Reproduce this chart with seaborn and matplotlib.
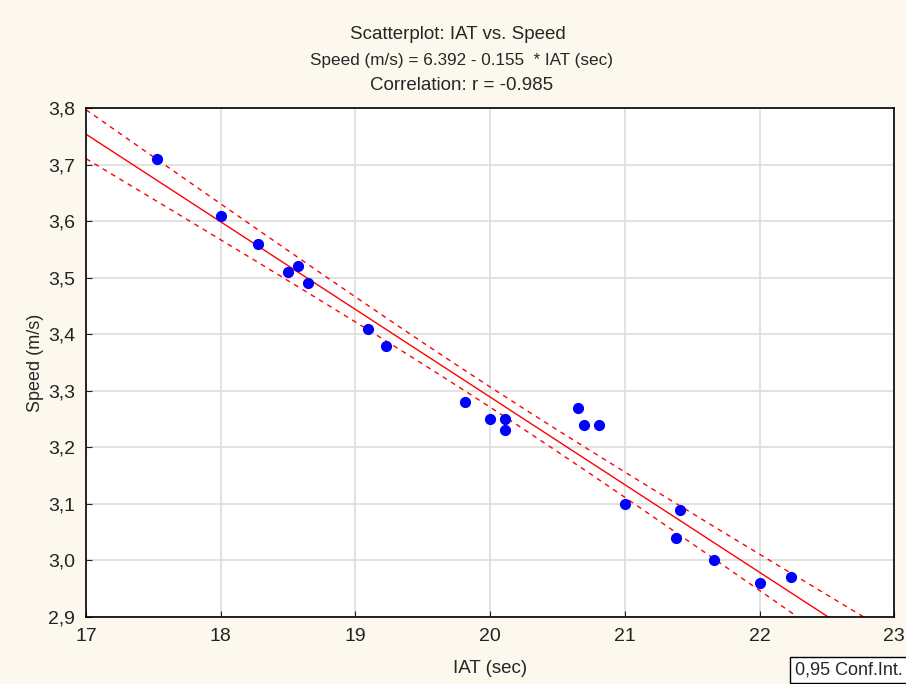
import numpy as np
import pandas as pd
import matplotlib
matplotlib.use("Agg")
import matplotlib.pyplot as plt
import seaborn as sns
from matplotlib.ticker import FuncFormatter

# data
iat = [17.53, 18.00, 18.28, 18.50, 18.57, 18.65, 19.09, 19.23, 19.81, 20.00, 20.11,
       20.11, 20.65, 20.70, 20.81, 21.00, 21.41, 21.38, 21.66, 22.00, 22.23]
speed = [3.71, 3.61, 3.56, 3.51, 3.52, 3.49, 3.41, 3.38, 3.28, 3.25, 3.25,
         3.23, 3.27, 3.24, 3.24, 3.10, 3.09, 3.04, 3.00, 2.96, 2.97]
x_ticks = [17, 18, 19, 20, 21, 22, 23]
y_ticks = [2.9, 3.0, 3.1, 3.2, 3.3, 3.4, 3.5, 3.6, 3.7, 3.8]

df = pd.DataFrame({"IAT": iat, "Speed": speed})

sns.set_style("whitegrid")
plt.rcParams["font.family"] = ["Liberation Sans", "DejaVu Sans"]

fig = plt.figure(figsize=(9.06, 6.84), dpi=100)
fig.patch.set_facecolor("#fdf8ee")
ax = fig.add_axes([0.095, 0.098, 0.892, 0.744])
ax.set_facecolor("white")

# fitted line and 95% confidence band
x = df["IAT"].values
y = df["Speed"].values
n = len(x)
b1, b0 = np.polyfit(x, y, 1)
xs = np.linspace(17, 23, 200)
ys = b0 + b1 * xs
resid = y - (b0 + b1 * x)
s = np.sqrt(np.sum(resid ** 2) / (n - 2))
t = 2.093  # t(0.975, 19)
se = s * np.sqrt(1 / n + (xs - x.mean()) ** 2 / np.sum((x - x.mean()) ** 2))

sns.lineplot(x=xs, y=ys, ax=ax, color="red", lw=1)
ax.plot(xs, ys + t * se, color="red", lw=1, ls=(0, (3.5, 3.5)))
ax.plot(xs, ys - t * se, color="red", lw=1, ls=(0, (3.5, 3.5)))

sns.scatterplot(data=df, x="IAT", y="Speed", ax=ax, color="blue", s=65,
                edgecolor="blue", linewidth=0, zorder=5)

ax.set_xlim(17, 23)
ax.set_ylim(2.9, 3.8)
ax.set_xticks(x_ticks)
ax.set_yticks(y_ticks)
ax.yaxis.set_major_formatter(FuncFormatter(lambda v, p: f"{v:.1f}".replace(".", ",")))
ax.tick_params(direction="in", length=4, labelsize=14, colors="#222222",
               bottom=True, left=True)
ax.tick_params(axis="x", pad=8)
ax.tick_params(axis="y", pad=8)
ax.grid(color="#dddddd", lw=1.2)
for sp in ax.spines.values():
    sp.set_color("black")
    sp.set_linewidth(1.2)

ax.set_xlabel("IAT (sec)", fontsize=13.5, labelpad=11)
ax.set_ylabel("Speed (m/s)", fontsize=13, labelpad=3)

fig.text(0.505, 0.949, "Scatterplot: IAT vs. Speed", ha="center", va="center", fontsize=13.5)
fig.text(0.509, 0.912, "Speed (m/s) = 6.392 - 0.155  * IAT (sec)", ha="center", va="center", fontsize=12.3)
fig.text(0.51, 0.875, "Correlation: r = -0.985", ha="center", va="center", fontsize=13.5)

fig.text(0.877, 0.021, "0,95 Conf.Int.", ha="left", va="center", fontsize=13,
         bbox=dict(boxstyle="square,pad=0.25", facecolor="white", edgecolor="black", lw=1))

fig.savefig("out.png", dpi=100, facecolor=fig.get_facecolor())
